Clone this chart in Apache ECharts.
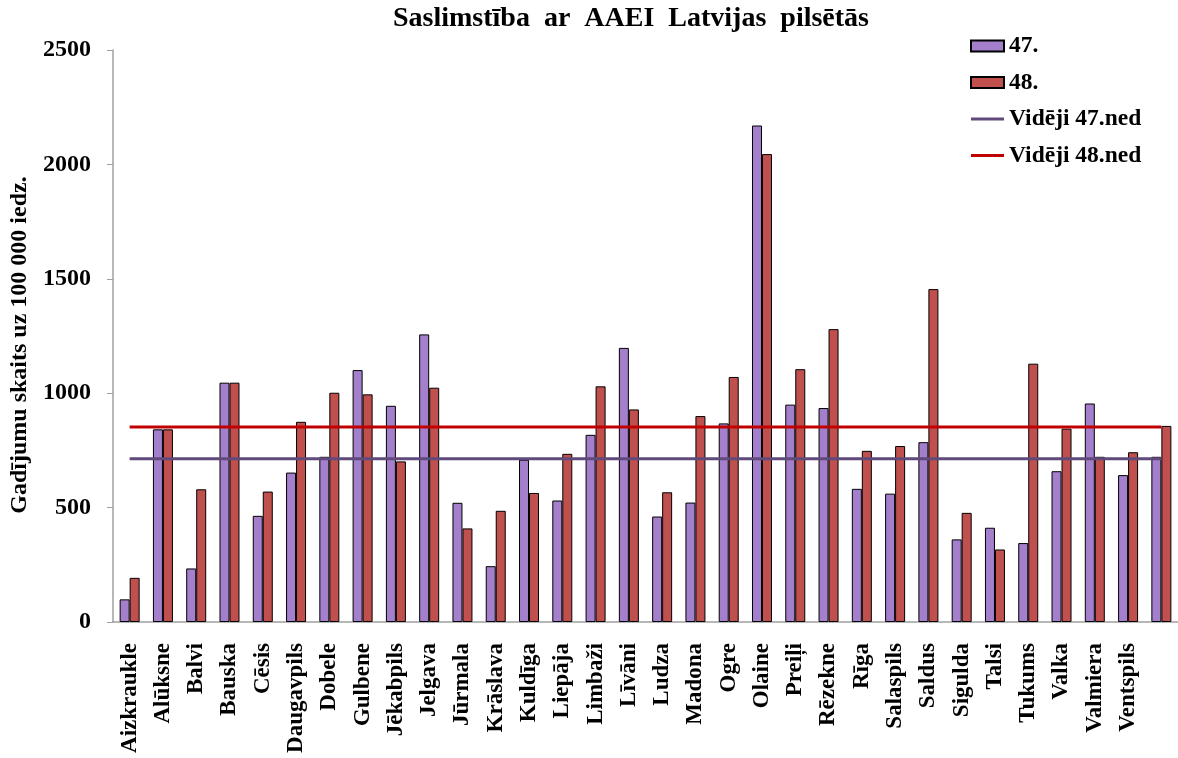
<!DOCTYPE html>
<html>
<head>
<meta charset="utf-8">
<script src="https://cdn.jsdelivr.net/npm/echarts@6/dist/echarts.min.js"></script>
<style>
html,body{margin:0;padding:0;background:#fff;}
#chart{width:1178px;height:758px;}
</style>
</head>
<body>
<div id="chart"></div>
<script>
const categories = ['Aizkraukle','Alūksne','Balvi','Bauska','Cēsis','Daugavpils','Dobele','Gulbene','Jēkabpils','Jelgava','Jūrmala','Krāslava','Kuldīga','Liepāja','Limbaži','Līvāni','Ludza','Madona','Ogre','Olaine','Preiļi','Rēzekne','Rīga','Salaspils','Saldus','Sigulda','Talsi','Tukums','Valka','Valmiera','Ventspils',''];
const week47 = [99,842,234,1046,464,653,722,1101,945,1257,521,244,709,531,818,1198,461,522,868,2170,950,935,582,561,786,361,412,345,659,955,642,722];
const week48 = [193,842,580,1046,570,875,1002,995,702,1024,409,486,564,735,1030,929,567,900,1071,2045,1105,1280,748,769,1455,477,317,1129,845,722,742,857];
const avg47 = 713;
const avg48 = 852;
const yTicks = [0,500,1000,1500,2000,2500];

const FONT = '"Liberation Serif","Times New Roman",serif';
const LINE_ICON = 'path://M0,0H33V3H0Z';
const chart = echarts.init(document.getElementById('chart'));
chart.setOption({
  animation: false,
  backgroundColor: '#fff',
  title: {
    text: 'Saslimstība  ar  AAEI  Latvijas  pilsētās',
    left: 631, top: 5, textAlign: 'center', padding: 0,
    textStyle: {fontFamily: FONT, fontWeight: 'bold', fontSize: 28, color: '#000'}
  },
  legend: {
    orient: 'vertical', left: 970, top: 34, padding: 0,
    itemWidth: 33, itemHeight: 11, itemGap: 12.5,
    textStyle: {fontFamily: FONT, fontWeight: 'bold', fontSize: 23.5, color: '#000'},
    data: [
      {name: '47.', icon: 'rect'},
      {name: '48.', icon: 'rect'},
      {name: 'Vidēji 47.ned', icon: LINE_ICON},
      {name: 'Vidēji 48.ned', icon: LINE_ICON}
    ]
  },
  grid: {left: 113, right: -3, top: 50, bottom: 136, containLabel: false},
  xAxis: {
    type: 'category', data: categories,
    axisLine: {lineStyle: {color: '#a0a0a0', width: 1.5}},
    axisTick: {show: false},
    axisLabel: {rotate: 90, interval: 0, margin: 21, fontFamily: FONT, fontWeight: 'bold', fontSize: 23, color: '#000'}
  },
  yAxis: {
    type: 'value', min: yTicks[0], max: yTicks[yTicks.length-1], interval: 500,
    name: 'Gadījumu skaits uz 100 000 iedz.', nameLocation: 'middle', nameGap: 78, nameRotate: 90,
    nameTextStyle: {fontFamily: FONT, fontWeight: 'bold', fontSize: 24, color: '#000', padding: [0, 18, 0, 0]},
    axisLine: {show: true, lineStyle: {color: '#a0a0a0', width: 1.5}},
    axisTick: {show: true, length: 6, lineStyle: {color: '#a0a0a0'}},
    splitLine: {show: false},
    axisLabel: {margin: 22, fontFamily: FONT, fontWeight: 'bold', fontSize: 24, color: '#000',
      formatter: v => String(v)}
  },
  series: [
    {name: '47.', type: 'bar', data: week47, barWidth: 10, barGap: '0%',
     itemStyle: {color: '#A47FCC', borderColor: '#000', borderWidth: 1}},
    {name: '48.', type: 'bar', data: week48, barWidth: 10, barGap: '0%',
     itemStyle: {color: '#C0504D', borderColor: '#000', borderWidth: 1}},
    {name: 'Vidēji 47.ned', type: 'line', data: categories.map(() => avg47), symbol: 'none',
     symbolKeepAspect: true,
     lineStyle: {color: '#604A7B', width: 3}, itemStyle: {color: '#604A7B'}, z: 5},
    {name: 'Vidēji 48.ned', type: 'line', data: categories.map(() => avg48), symbol: 'none',
     symbolKeepAspect: true,
     lineStyle: {color: '#C00000', width: 3}, itemStyle: {color: '#C00000'}, z: 5}
  ]
});
</script>
</body>
</html>
